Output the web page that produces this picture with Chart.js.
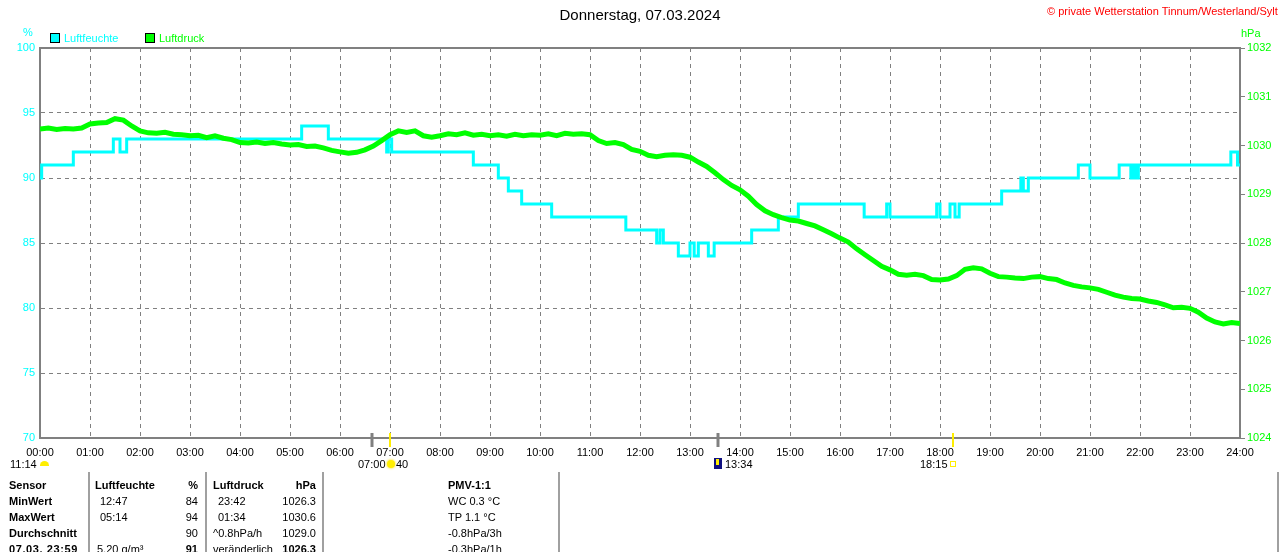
<!DOCTYPE html>
<html>
<head>
<meta charset="utf-8">
<script src="https://cdn.jsdelivr.net/npm/chart.js@4.4.1/dist/chart.umd.min.js"></script>
<style>
html,body{margin:0;padding:0;background:#fff;}
#wrap{position:relative;width:1280px;height:552px;overflow:hidden;font-family:"Liberation Sans",Arial,sans-serif;}
#c{position:absolute;left:0;top:0;}
.t{position:absolute;white-space:nowrap;font-size:11px;line-height:14px;color:#000;}
.b{font-weight:bold;}
.r{text-align:right;}
.vl{position:absolute;width:2px;background:#a0a0a0;top:472px;height:80px;}
</style>
</head>
<body>
<div id="wrap">
<canvas id="c" width="1280" height="552"></canvas>
<div class="t" style="left:0;width:1280px;top:6px;text-align:center;font-size:15px;line-height:18px;">Donnerstag, 07.03.2024</div>
<div class="t" style="left:1047px;top:4px;color:#ff0000;font-size:11px;">© private Wetterstation Tinnum/Westerland/Sylt</div>
<div class="t" style="left:23px;top:25px;color:#00ffff;">%</div>
<div class="t" style="left:1241px;top:26px;color:#00ff00;">hPa</div>
<div style="position:absolute;left:50px;top:33px;width:8px;height:8px;border:1px solid #000;background:#00ffff;"></div>
<div class="t" style="left:64px;top:31px;color:#00ffff;">Luftfeuchte</div>
<div style="position:absolute;left:145px;top:33px;width:8px;height:8px;border:1px solid #000;background:#00ff00;"></div>
<div class="t" style="left:159px;top:31px;color:#00ff00;">Luftdruck</div>

<div class="t" style="left:10px;top:457px;">11:14</div>
<div style="position:absolute;left:40px;top:461px;width:9px;height:5px;background:#ffee00;border-radius:5px 5px 0 0;"></div>
<div class="t" style="left:358px;top:457px;">07:00</div>
<div style="position:absolute;left:387px;top:460px;width:8px;height:8px;background:#ffee00;border-radius:50%;box-shadow:0 0 2px 1px #fff080;"></div>
<div class="t" style="left:396px;top:457px;">40</div>
<div style="position:absolute;left:714px;top:458px;width:8px;height:11px;background:#101080;"></div>
<div style="position:absolute;left:716px;top:459px;width:3px;height:6px;background:#ffee00;"></div>
<div class="t" style="left:725px;top:457px;">13:34</div>
<div class="t" style="left:920px;top:457px;">18:15</div>
<div style="position:absolute;left:950px;top:461px;width:4px;height:4px;border:1px solid #ffee00;"></div>

<div class="vl" style="left:88px;"></div>
<div class="vl" style="left:205px;"></div>
<div class="vl" style="left:322px;"></div>
<div class="vl" style="left:558px;"></div>
<div class="vl" style="left:1277px;"></div>

<div class="t b" style="left:9px;top:478px;">Sensor</div>
<div class="t b" style="left:9px;top:494px;">MinWert</div>
<div class="t b" style="left:9px;top:510px;">MaxWert</div>
<div class="t b" style="left:9px;top:526px;">Durchschnitt</div>
<div class="t b" style="left:9px;top:542px;letter-spacing:0.6px;">07.03. 23:59</div>

<div class="t b" style="left:95px;top:478px;">Luftfeuchte</div>
<div class="t b r" style="left:150px;width:48px;top:478px;">%</div>
<div class="t" style="left:100px;top:494px;">12:47</div>
<div class="t" style="left:100px;top:510px;">05:14</div>
<div class="t" style="left:97px;top:542px;">5.20 g/m³</div>
<div class="t r" style="left:150px;width:48px;top:494px;">84</div>
<div class="t r" style="left:150px;width:48px;top:510px;">94</div>
<div class="t r" style="left:150px;width:48px;top:526px;">90</div>
<div class="t b r" style="left:150px;width:48px;top:542px;">91</div>

<div class="t b" style="left:213px;top:478px;">Luftdruck</div>
<div class="t b r" style="left:260px;width:56px;top:478px;">hPa</div>
<div class="t" style="left:218px;top:494px;">23:42</div>
<div class="t" style="left:218px;top:510px;">01:34</div>
<div class="t" style="left:213px;top:526px;">^0.8hPa/h</div>
<div class="t" style="left:213px;top:542px;">veränderlich</div>
<div class="t r" style="left:260px;width:56px;top:494px;">1026.3</div>
<div class="t r" style="left:260px;width:56px;top:510px;">1030.6</div>
<div class="t r" style="left:260px;width:56px;top:526px;">1029.0</div>
<div class="t b r" style="left:260px;width:56px;top:542px;">1026.3</div>

<div class="t b" style="left:448px;top:478px;">PMV-1:1</div>
<div class="t" style="left:448px;top:494px;">WC 0.3 °C</div>
<div class="t" style="left:448px;top:510px;">TP 1.1 °C</div>
<div class="t" style="left:448px;top:526px;">-0.8hPa/3h</div>
<div class="t" style="left:448px;top:542px;">-0.3hPa/1h</div>
</div>

<script>
// ---- data ----
const tickLabels = ["00:00","01:00","02:00","03:00","04:00","05:00","06:00","07:00","08:00","09:00","10:00","11:00","12:00","13:00","14:00","15:00","16:00","17:00","18:00","19:00","20:00","21:00","22:00","23:00","24:00"];

// humidity (%) change points: minute of day -> value from then on
const humTimes  = [0,2,40,88,96,104,314,346,416,418,422,520,550,562,578,614,703,740,744,748,766,780,785,790,802,809,854,886,910,989,1016,1020,1076,1080,1092,1098,1103,1154,1177,1180,1186,1246,1260,1295,1309,1312,1315,1318,1429,1437,1440];
const humValues = [90,91,92,93,92,93,94,93,92,93,92,91,90,89,88,87,86,85,86,85,84,85,84,85,84,85,86,87,88,87,88,87,88,87,88,87,88,89,90,89,90,91,90,91,90,91,90,91,92,91,91];

// air pressure (hPa), one reading every 10 minutes from 00:00 to 24:00
const pressStepMin = 10;
const pressValues = [
 1030.34,1030.36,1030.33,1030.35,1030.34,1030.36, // 00:00-00:50
 1030.44,1030.46,1030.47,1030.55,1030.52,1030.40, // 01
 1030.30,1030.26,1030.25,1030.27,1030.23,1030.22, // 02
 1030.20,1030.21,1030.16,1030.20,1030.15,1030.12, // 03
 1030.06,1030.05,1030.07,1030.04,1030.06,1030.03, // 04
 1030.01,1030.02,1029.98,1029.99,1029.95,1029.90, // 05
 1029.87,1029.84,1029.86,1029.91,1029.99,1030.10, // 06
 1030.22,1030.30,1030.27,1030.30,1030.20,1030.17, // 07
 1030.20,1030.24,1030.22,1030.26,1030.21,1030.23, // 08
 1030.20,1030.22,1030.19,1030.23,1030.20,1030.22, // 09
 1030.21,1030.24,1030.20,1030.25,1030.23,1030.24, // 10
 1030.22,1030.10,1030.04,1030.06,1030.02,1029.92, // 11
 1029.88,1029.80,1029.77,1029.80,1029.81,1029.80, // 12
 1029.76,1029.66,1029.57,1029.44,1029.30,1029.18, // 13
 1029.09,1028.96,1028.79,1028.66,1028.58,1028.52, // 14
 1028.47,1028.45,1028.40,1028.35,1028.27,1028.19, // 15
 1028.10,1028.02,1027.88,1027.76,1027.64,1027.52, // 16
 1027.45,1027.36,1027.34,1027.36,1027.33,1027.25, // 17
 1027.24,1027.26,1027.33,1027.46,1027.49,1027.47, // 18
 1027.38,1027.31,1027.30,1027.28,1027.27,1027.30, // 19
 1027.31,1027.27,1027.25,1027.18,1027.13,1027.10, // 20
 1027.08,1027.05,1026.99,1026.93,1026.89,1026.86, // 21
 1026.85,1026.81,1026.78,1026.73,1026.67,1026.68, // 22
 1026.66,1026.58,1026.46,1026.38,1026.34,1026.37, // 23
 1026.35                                          // 24:00
];

// marker ticks on the time axis (minute of day, colour)
const markerTimes  = [398, 420, 814, 1095];
const markerColors = ["#808080", "#ffee00", "#808080", "#ffee00"];

// ---- chart ----
const humData = humTimes.map((t, i) => ({x: t, y: humValues[i]}));
const pressData = pressValues.map((v, i) => ({x: i * pressStepMin, y: v}));

const frameAndMarkers = {
  id: 'frameAndMarkers',
  afterDraw(chart) {
    const {ctx, chartArea: a, scales} = chart;
    ctx.save();
    ctx.strokeStyle = '#808080';
    ctx.lineWidth = 2;
    ctx.beginPath();
    ctx.moveTo(a.left - 1, a.top);
    ctx.lineTo(a.right + 1, a.top);
    ctx.stroke();
    markerTimes.forEach((t, i) => {
      const x = Math.round(scales.x.getPixelForValue(t));
      ctx.strokeStyle = markerColors[i];
      ctx.lineWidth = markerColors[i] === '#808080' ? 3 : 2;
      ctx.beginPath();
      ctx.moveTo(x, a.bottom - 5);
      ctx.lineTo(x, a.bottom + 9);
      ctx.stroke();
    });
    ctx.restore();
  }
};

const fontFam = '"Liberation Sans", Arial, sans-serif';

new Chart(document.getElementById('c'), {
  type: 'line',
  data: {
    datasets: [
      {label: 'Luftfeuchte', data: humData, yAxisID: 'y', borderColor: '#00ffff', backgroundColor: '#00ffff',
       borderWidth: 3, pointRadius: 0, stepped: 'before', order: 1},
      {label: 'Luftdruck', data: pressData, yAxisID: 'y1', borderColor: '#00ff00', backgroundColor: '#00ff00',
       borderWidth: 5, pointRadius: 0, tension: 0, order: 0}
    ]
  },
  options: {
    responsive: false,
    devicePixelRatio: 1,
    animation: false,
    parsing: true,
    layout: {padding: {top: 48, left: 0, right: 0, bottom: 0}},
    plugins: {legend: {display: false}, title: {display: false}, tooltip: {enabled: false}},
    scales: {
      x: {
        type: 'linear', min: 0, max: 1440, position: 'bottom',
        afterFit(s) { s.height = 114; },
        ticks: {stepSize: 60, autoSkip: false, maxRotation: 0, padding: 8, color: '#000',
                font: {family: fontFam, size: 11},
                callback: (v) => tickLabels[v / 60] ?? ''},
        grid: {color: '#808080', lineWidth: 1, drawTicks: false},
        border: {display: true, color: '#808080', width: 2, dash: [4, 4]}
      },
      y: {
        type: 'linear', min: 70, max: 100, position: 'left',
        afterFit(s) { s.width = 40; },
        ticks: {stepSize: 5, padding: 5, color: '#00ffff', font: {family: fontFam, size: 11},
                callback: (v) => String(v)},
        grid: {color: '#808080', lineWidth: 1, drawTicks: false},
        border: {display: true, color: '#808080', width: 2, dash: [4, 4]}
      },
      y1: {
        type: 'linear', min: 1024, max: 1032, position: 'right',
        afterFit(s) { s.width = 40; },
        ticks: {stepSize: 1, padding: 2, color: '#00ff00', font: {family: fontFam, size: 11},
                callback: (v) => String(v)},
        grid: {drawOnChartArea: false, drawTicks: true, tickLength: 5, tickColor: '#808080', lineWidth: 1},
        border: {display: true, color: '#808080', width: 2}
      }
    }
  },
  plugins: [frameAndMarkers]
});
</script>
</body>
</html>
